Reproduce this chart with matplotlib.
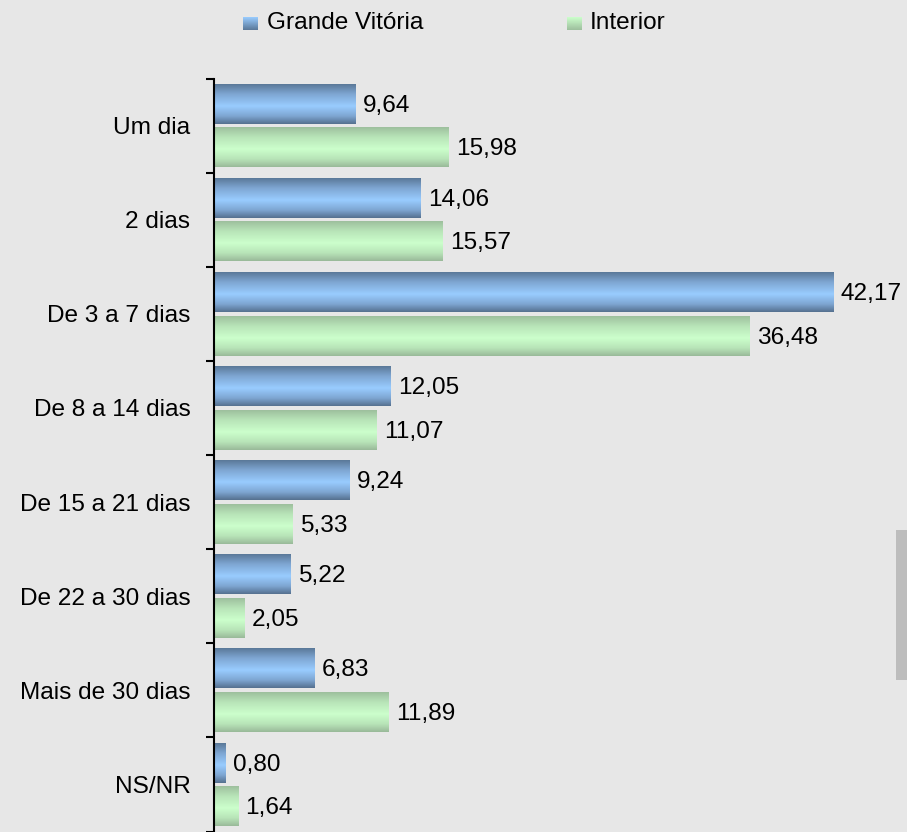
import numpy as np
import matplotlib
matplotlib.use("Agg")
import matplotlib.pyplot as plt
from matplotlib.patches import Rectangle
from matplotlib.colors import LinearSegmentedColormap

plt.rcParams['font.family'] = ['Liberation Sans', 'DejaVu Sans']

categories = ["Um dia", "2 dias", "De 3 a 7 dias", "De 8 a 14 dias",
              "De 15 a 21 dias", "De 22 a 30 dias", "Mais de 30 dias", "NS/NR"]
grande_vitoria = [9.64, 14.06, 42.17, 12.05, 9.24, 5.22, 6.83, 0.80]
interior = [15.98, 15.57, 36.48, 11.07, 5.33, 2.05, 11.89, 1.64]
series_names = ["Grande Vitória", "Interior"]

W, H = 907, 832
FS = 17.6
fig = plt.figure(figsize=(W / 100, H / 100), dpi=100)
bg = '#e7e7e7'
fig.patch.set_facecolor(bg)

top_px, bot_px = 78.5, 831.6
ax = fig.add_axes([214 / W, 1 - bot_px / H, 1 - 214 / W, (bot_px - top_px) / H])
ax.set_facecolor('none')

y = np.arange(len(categories))
h = 0.422
off = 0.232

blue_cmap = LinearSegmentedColormap.from_list(
    'b', [(0.0, '#5a7898'), (0.25, '#7ea6d2'), (0.55, '#99ccff'), (0.8, '#7ea6d2'), (1.0, '#55708f')])
green_cmap = LinearSegmentedColormap.from_list(
    'g', [(0.0, '#9dbf9d'), (0.25, '#b8e4b8'), (0.55, '#ccffcc'), (0.8, '#b8e4b8'), (1.0, '#99b999')])

bars_b = ax.barh(y - off, grande_vitoria, height=h, color='none', edgecolor='none')
bars_g = ax.barh(y + off, interior, height=h, color='none', edgecolor='none')

grad = np.linspace(0, 1, 256).reshape(-1, 1)
for bars, cmap in ((bars_b, blue_cmap), (bars_g, green_cmap)):
    for p in bars:
        x0, y0 = p.get_x(), p.get_y()
        w, hh = p.get_width(), p.get_height()
        ax.imshow(grad, cmap=cmap, aspect='auto', origin='upper',
                  extent=(x0, x0 + w, y0 + hh, y0), zorder=2, interpolation='bilinear')

for vals, ys in ((grande_vitoria, y - off), (interior, y + off)):
    for v, yy in zip(vals, ys):
        ax.text(v + 0.5, yy + 0.02, f"{v:.2f}".replace('.', ','), va='center', ha='left',
                fontsize=FS, color='black', zorder=3)

ax.set_xlim(0, (W - 214) / 14.68)
ax.set_ylim(len(categories) - 0.5, -0.5)

for s in ('top', 'right', 'bottom'):
    ax.spines[s].set_visible(False)
ax.spines['left'].set_color('black')
ax.spines['left'].set_linewidth(1.5)
ax.set_xticks([])
ax.set_yticks(np.arange(len(categories) + 1) - 0.5)
ax.set_yticklabels([])
ax.tick_params(axis='y', which='major', length=6, width=1.5, direction='out', color='black')
ax.set_yticks(y, minor=True)
ax.set_yticklabels(categories, minor=True, fontsize=FS)
ax.tick_params(axis='y', which='minor', length=0, pad=17)

def px2fig(x, yy):
    return x / W, 1 - yy / H

for (sx, tx, name, c1, c2) in ((243, 267, series_names[0], '#99ccff', '#5a7898'),
                               (567, 590, series_names[1], '#ccffcc', '#9dbf9d')):
    fx, fy = px2fig(sx, 30)
    rect_ax = fig.add_axes([fx, fy, 15 / W, 13 / H])
    rect_ax.imshow(np.linspace(0, 1, 64).reshape(-1, 1),
                   cmap=LinearSegmentedColormap.from_list('l', [c1, c2]), aspect='auto')
    rect_ax.axis('off')
    tfx, tfy = px2fig(tx, 23)
    fig.text(tfx, tfy, name, fontsize=FS, va='center', ha='left', color='black')

fig.patches.append(Rectangle((896 / W, 1 - 680 / H), 11 / W, 150 / H,
                             transform=fig.transFigure, facecolor='#bdbdbd', edgecolor='none'))

fig.savefig('out.png', dpi=100, facecolor=bg)
